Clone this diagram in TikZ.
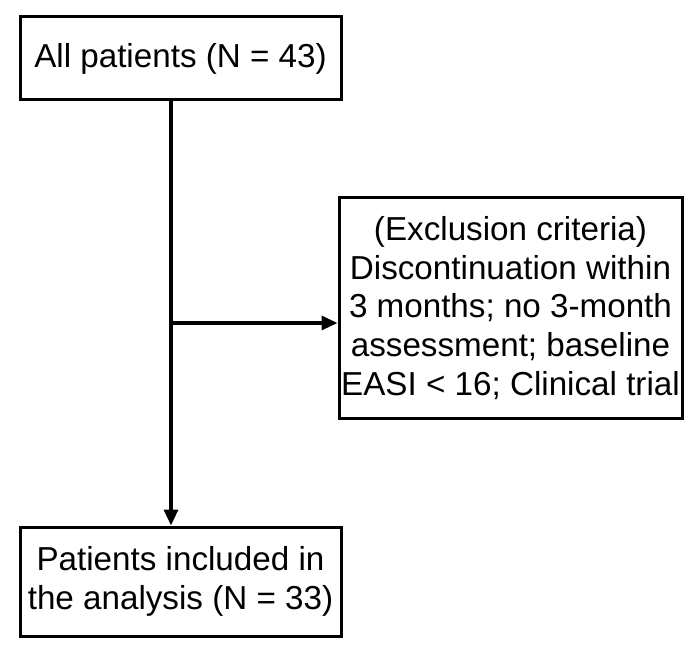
\documentclass[tikz,border=0pt]{standalone}
\usepackage{fontspec}
\setmainfont{Liberation Sans}
\usetikzlibrary{arrows.meta}
\begin{document}
\begin{tikzpicture}[x=1pt,y=-1pt,
  box/.style={draw=black,line width=3pt,fill=white,inner sep=0pt,align=center,
    font=\fontsize{33.2}{38.75}\selectfont},
  arr/.style={line width=3.2pt,-{Triangle[length=16pt,width=14pt]}}]
\useasboundingbox (0,0) rectangle (699,652);
\node[box,minimum width=321pt,minimum height=83pt] (top) at (180.5,58.5) {All patients (N = 43)};
\node[box,minimum width=343pt,minimum height=220pt] (excl) at (510.5,308)
  {(Exclusion criteria)\\Discontinuation within\\3 months; no 3-month\\assessment; baseline\\EASI < 16; Clinical trial};
\node[box,minimum width=321pt,minimum height=109pt] (incl) at (180.5,581.5)
  {Patients included in\\the analysis (N = 33)};
\coordinate (vx) at (171,0);
\coordinate (j) at (171,323);
\draw[arr] (top.south -| vx) -- (incl.north -| vx);
\draw[arr] (j) -- (j -| excl.west);
\end{tikzpicture}
\end{document}
